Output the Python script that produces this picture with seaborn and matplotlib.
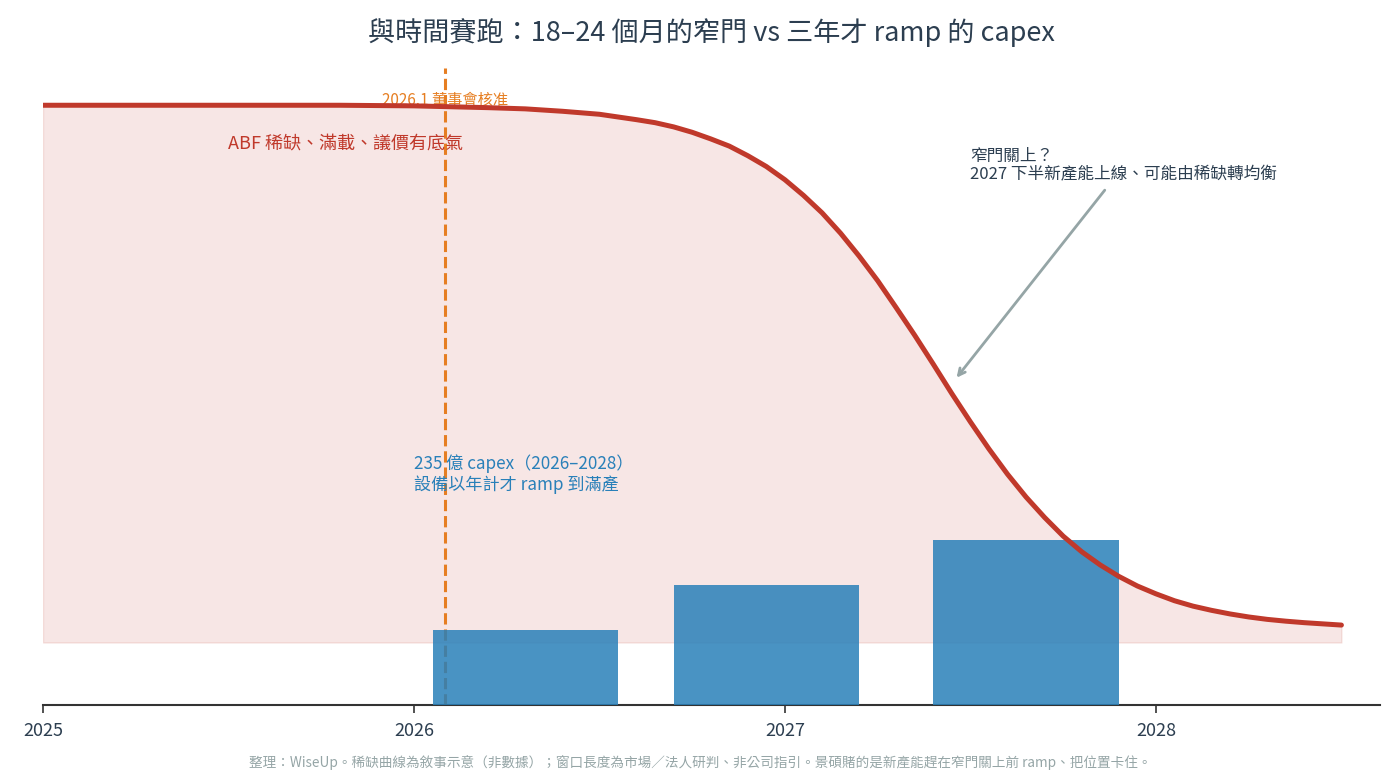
import matplotlib
matplotlib.use("Agg")
import matplotlib.pyplot as plt
import pandas as pd
import seaborn as sns

# ---- data ----
curve_x = [2025.00, 2025.50, 2025.80, 2026.00, 2026.20, 2026.30, 2026.40, 2026.50,
           2026.60, 2026.65, 2026.70, 2026.75, 2026.80, 2026.85, 2026.90, 2026.95,
           2027.00, 2027.05, 2027.10, 2027.15, 2027.20, 2027.25, 2027.30, 2027.35,
           2027.40, 2027.45, 2027.50, 2027.55, 2027.60, 2027.65, 2027.70, 2027.75,
           2027.80, 2027.85, 2027.90, 2027.95, 2028.00, 2028.05, 2028.10, 2028.15,
           2028.20, 2028.25, 2028.30, 2028.35, 2028.40, 2028.45, 2028.50]
curve_y = [0.998, 0.998, 0.998, 0.997, 0.994, 0.992, 0.988, 0.983,
           0.974, 0.969, 0.962, 0.953, 0.942, 0.930, 0.914, 0.896,
           0.874, 0.848, 0.819, 0.785, 0.747, 0.706, 0.661, 0.615,
           0.567, 0.518, 0.471, 0.426, 0.384, 0.346, 0.312, 0.281,
           0.255, 0.233, 0.214, 0.198, 0.185, 0.1735, 0.1645, 0.1575,
           0.1515, 0.1465, 0.1425, 0.1395, 0.137, 0.135, 0.133]
fill_floor = 0.104

bar_x = [2026.30, 2026.95, 2027.65]
bar_h = [0.125, 0.200, 0.275]

tick_years = [2025, 2026, 2027, 2028]
tick_labels = ["2025", "2026", "2027", "2028"]

board_x = 2026.083
arrow_target = (2027.458, 0.541)

title = "與時間賽跑：18–24 個月的窄門 vs 三年才 ramp 的 capex"
board_label = "2026.1 董事會核准"
scarce_label = "ABF 稀缺、滿載、議價有底氣"
close_label = "窄門關上？\n2027 下半新產能上線、可能由稀缺轉均衡"
capex_label = "235 億 capex（2026–2028）\n設備以年計才 ramp 到滿產"
footer = ("整理：WiseUp。稀缺曲線為敘事示意（非數據）；窗口長度為市場／法人研判、非公司指引。"
          "景碩賭的是新產能趕在窄門關上前 ramp、把位置卡住。")

# ---- style ----
sns.set_theme(style="white")
plt.rcParams["font.family"] = ["Noto Sans CJK TC", "DejaVu Sans"]

RED = "#c0392b"
BLUE = "#2980b9"
ORANGE = "#e67e22"
DARK = "#2c3e50"
GRAY = "#95a5a6"

fig = plt.figure(figsize=(14, 7.84), dpi=100)
ax = fig.add_axes([43 / 1400, 1 - 705 / 784, (1380 - 43) / 1400, (705 - 68) / 784])

ax.fill_between(curve_x, curve_y, fill_floor, color=RED, alpha=0.12, lw=1, zorder=1)
ax.axvline(board_x, color=ORANGE, ls="--", lw=2.2, zorder=2)
ax.bar(bar_x, bar_h, width=0.5, color=BLUE, alpha=0.85, edgecolor="none", lw=0, zorder=3)
df = pd.DataFrame({"x": curve_x, "y": curve_y})
sns.lineplot(data=df, x="x", y="y", ax=ax, color=RED, lw=3.6, zorder=4)

ax.text(board_x, 0.992, board_label, ha="center", va="bottom", color=ORANGE, fontsize=11, zorder=3)
ax.text(2025.5, 0.935, scarce_label, ha="left", va="center", color=RED, fontsize=13, zorder=5)
ax.annotate(close_label, xy=arrow_target, xytext=(2027.5, 0.897), ha="left", va="center",
            fontsize=12, color=DARK, linespacing=1.1, zorder=5,
            arrowprops=dict(arrowstyle="->", color=GRAY, lw=2, shrinkA=3, shrinkB=2))
ax.text(2026.0, 0.384, capex_label, ha="left", va="center", color=BLUE, fontsize=12.3,
        linespacing=1.1, zorder=5)

ax.set_xlim(2025, 2028.604)
ax.set_ylim(0, 1.06)
ax.set_xticks(tick_years)
ax.set_xticklabels(tick_labels)
ax.set_yticks([])
ax.set_xlabel("")
ax.set_ylabel("")
ax.tick_params(axis="x", bottom=True, length=6, width=1.2, color="#333333",
               labelsize=13, labelcolor=DARK, pad=6)
sns.despine(ax=ax, left=True, top=True, right=True)
ax.spines["bottom"].set_color("#333333")
ax.spines["bottom"].set_linewidth(1.5)

fig.text(711.5 / 1400, 1 - 33 / 784, title, ha="center", va="center", fontsize=19.5, color=DARK)
fig.text(0.5, 1 - 763 / 784, footer, ha="center", va="center", fontsize=9.8, color=GRAY)

fig.savefig("out.png", dpi=100)
